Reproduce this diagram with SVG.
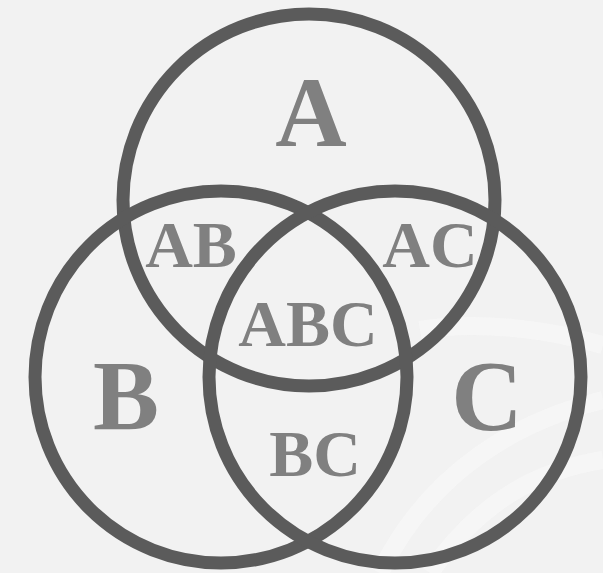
<svg xmlns="http://www.w3.org/2000/svg" width="603" height="573" viewBox="0 0 603 573">
  <style>
    .ring { fill: none; stroke: #5b5b5b; stroke-width: 13; }
    .lbl { font-family: "Liberation Serif", "Times New Roman", serif; font-weight: bold; fill: #808080; text-anchor: middle; }
    .big { font-size: 99px; }
    .small { font-size: 66px; }
    .swoosh { fill: none; stroke: #f8f8f8; stroke-width: 18; opacity: 0.7; }
  </style>
  <rect x="0" y="0" width="603" height="573" fill="#f2f2f2"/>
  <g id="background">
    <path class="swoosh" d="M380 573 C 430 470, 520 420, 603 400"/>
    <path class="swoosh" d="M430 573 C 480 500, 540 470, 603 460"/>
    <path class="swoosh" d="M420 330 C 480 320, 550 330, 603 345"/>
  </g>
  <g id="connectors"></g>
  <g id="circle-A">
    <circle class="ring" cx="309" cy="200" r="186"/>
  </g>
  <g id="circle-B">
    <circle class="ring" cx="221" cy="377" r="186"/>
  </g>
  <g id="circle-C">
    <circle class="ring" cx="395" cy="377" r="186"/>
  </g>
  <g id="label-A"><text class="lbl big" x="311" y="146">A</text></g>
  <g id="label-B"><text class="lbl big" x="126" y="429">B</text></g>
  <g id="label-C"><text class="lbl big" x="487" y="429">C</text></g>
  <g id="label-AB"><text class="lbl small" x="191" y="267">AB</text></g>
  <g id="label-AC"><text class="lbl small" x="430" y="267">AC</text></g>
  <g id="label-ABC"><text class="lbl small" x="308" y="346">ABC</text></g>
  <g id="label-BC"><text class="lbl small" x="315" y="476">BC</text></g>
</svg>
